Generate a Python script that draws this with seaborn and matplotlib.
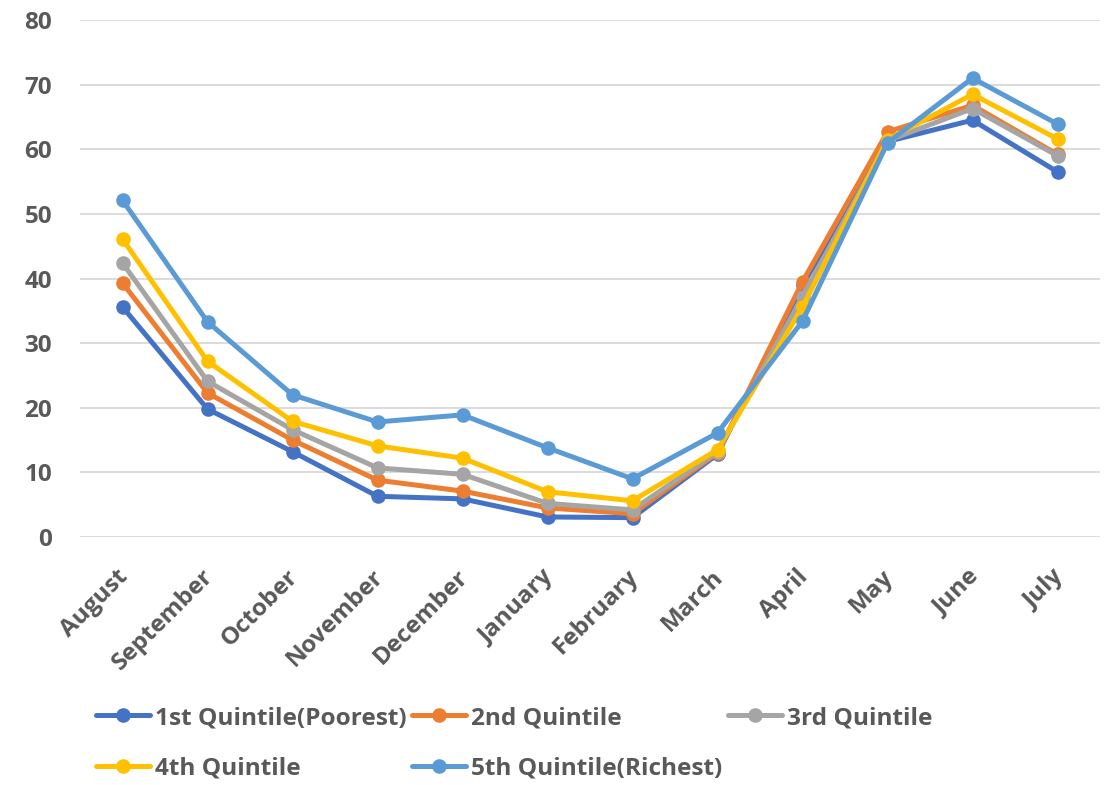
import matplotlib
matplotlib.use("Agg")
import matplotlib.pyplot as plt
import matplotlib.transforms as mtransforms
import seaborn as sns
import pandas as pd

months = ["August", "September", "October", "November", "December", "January",
          "February", "March", "April", "May", "June", "July"]

q1_poorest = [35.6, 19.8, 13.2, 6.3, 5.9, 3.1, 3.0, 12.8, 39.0, 61.2, 64.5, 56.5]
q2 = [39.3, 22.3, 15.0, 8.8, 7.1, 4.5, 3.6, 13.0, 39.5, 62.7, 66.8, 59.2]
q3 = [42.4, 24.1, 16.6, 10.7, 9.7, 5.2, 4.2, 13.2, 37.2, 61.3, 66.3, 59.0]
q4 = [46.1, 27.2, 17.9, 14.1, 12.2, 7.0, 5.6, 13.5, 35.6, 61.5, 68.5, 61.6]
q5_richest = [52.1, 33.3, 22.0, 17.8, 18.9, 13.8, 9.0, 16.1, 33.4, 61.0, 71.0, 63.9]

series_names = ["1st Quintile(Poorest)", "2nd Quintile", "3rd Quintile",
                "4th Quintile", "5th Quintile(Richest)"]
series_values = [q1_poorest, q2, q3, q4, q5_richest]
colors = ["#4472C4", "#ED7D31", "#A5A5A5", "#FFC000", "#5B9BD5"]

rows = []
for name, vals in zip(series_names, series_values):
    for m, v in zip(months, vals):
        rows.append({"month": m, "value": v, "series": name})
df = pd.DataFrame(rows)

sns.set_theme(style="white")
plt.rcParams["font.family"] = ["Open Sans", "DejaVu Sans"]
text_color = "#595959"
fs = 17.5

fig = plt.figure(figsize=(11.06, 7.85), dpi=100)
ax = fig.add_axes([80 / 1106, 1 - 537 / 785, 1020 / 1106, 517 / 785])

sns.lineplot(data=df, x="month", y="value", hue="series", hue_order=series_names,
             palette=colors, marker="o", markersize=10.5, markeredgewidth=0,
             linewidth=3.6, sort=False, ax=ax, legend=True)

ax.set_xlim(-0.5, len(months) - 0.5)
ax.set_ylim(0, 80)
ax.set_yticks(range(0, 81, 10))
ax.grid(axis="y", color="#D9D9D9", linewidth=1.3)
ax.set_axisbelow(True)
for s in ax.spines.values():
    s.set_visible(False)
ax.set_xlabel("")
ax.set_ylabel("")
ax.tick_params(axis="both", length=0, colors=text_color, labelsize=fs)
ax.tick_params(axis="y", pad=20)
ax.tick_params(axis="x", pad=20)
for lbl in ax.get_yticklabels():
    lbl.set_fontweight("bold")
shift = mtransforms.ScaledTranslation(-6 / 100, 0, fig.dpi_scale_trans)
for lbl in ax.get_xticklabels():
    lbl.set_fontweight("bold")
    lbl.set_rotation(45)
    lbl.set_ha("right")
    lbl.set_rotation_mode("anchor")
    lbl.set_transform(lbl.get_transform() + shift)

handles, labels = ax.get_legend_handles_labels()
ax.get_legend().remove()
order = [0, 3, 1, 4, 2]
leg = fig.legend([handles[i] for i in order], [labels[i] for i in order],
                 ncol=3, frameon=False, loc="upper left",
                 bbox_to_anchor=(96 / 1106, 1 - 706 / 785),
                 borderaxespad=0, borderpad=0, handlelength=2.2,
                 handletextpad=0.2, columnspacing=0.25, labelspacing=1.1,
                 prop={"weight": "bold", "size": 17.6})
for t in leg.get_texts():
    t.set_color(text_color)

fig.savefig("out.png", dpi=100)
